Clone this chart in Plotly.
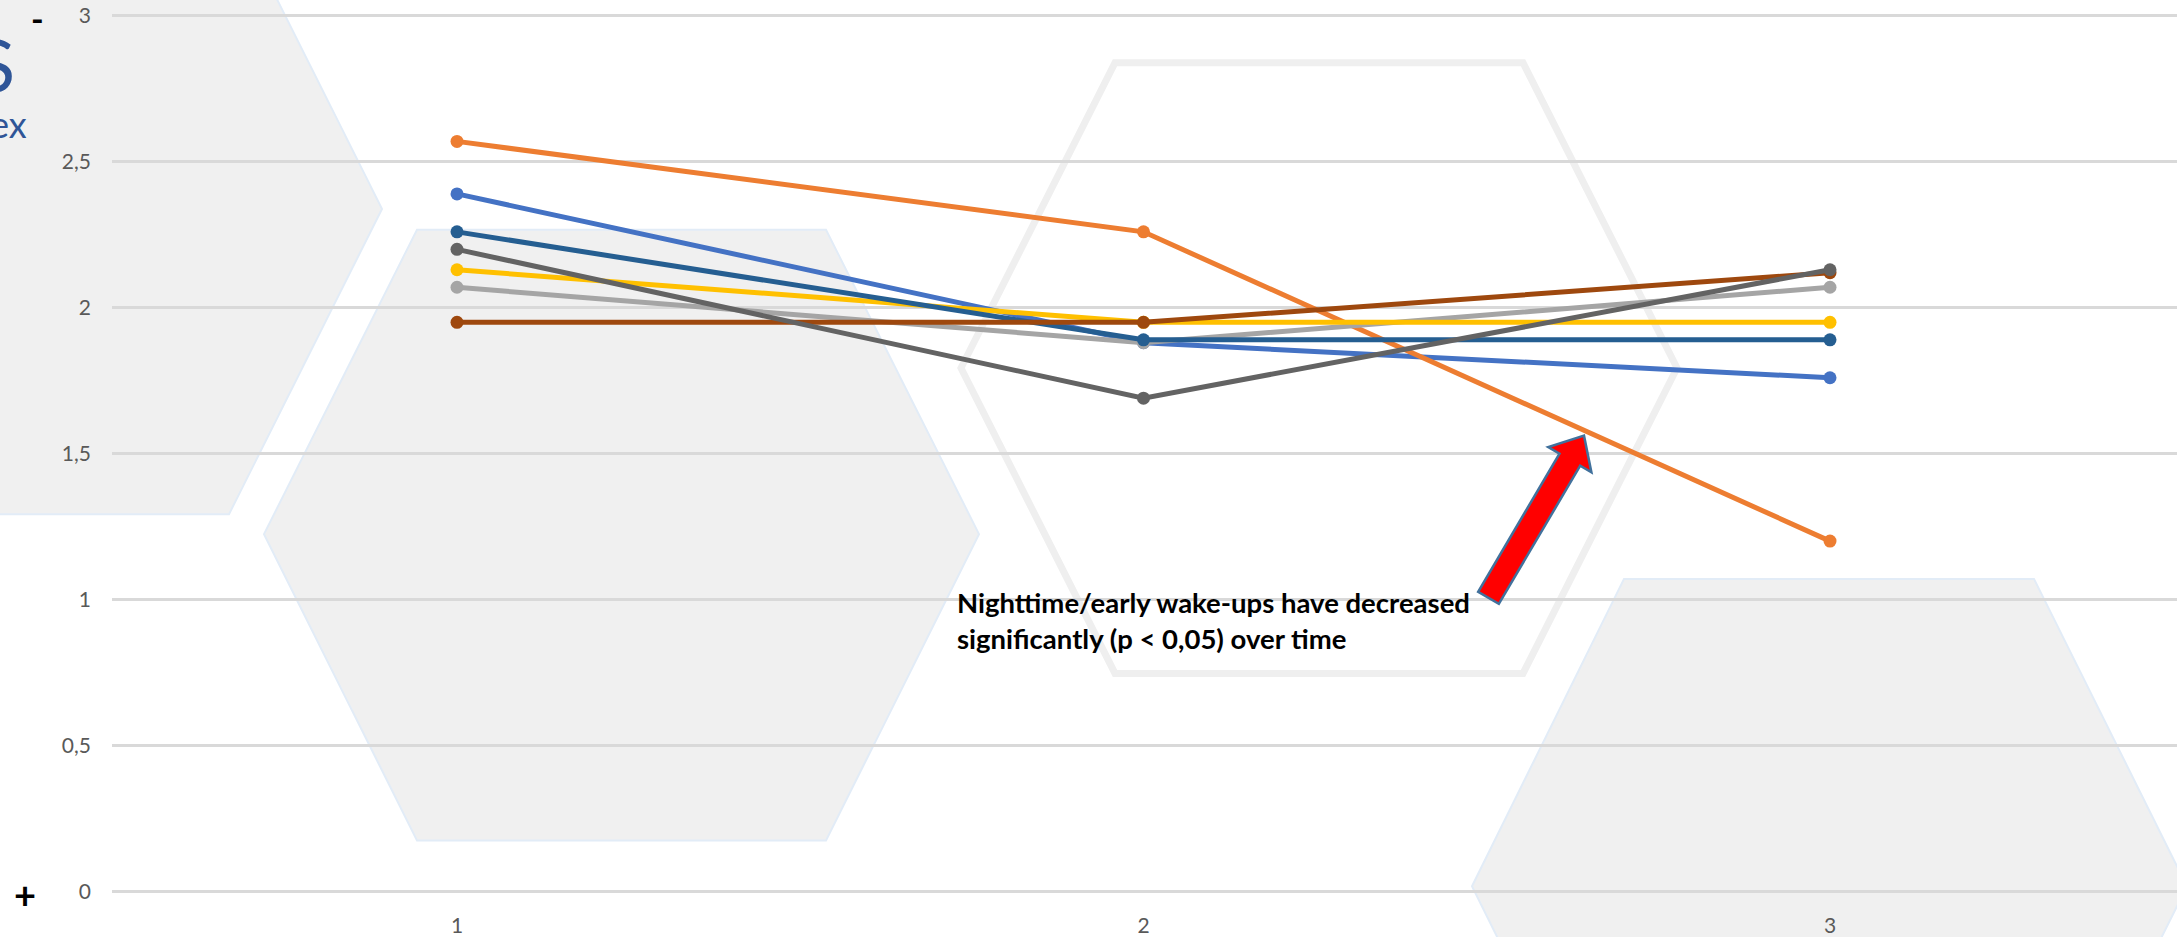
import plotly.graph_objects as go

# ---- data -------------------------------------------------------------
categories = [1, 2, 3]
tick_labels_x = ["1", "2", "3"]

serie_1 = [2.39, 1.88, 1.76]   # blue
serie_2 = [2.57, 2.26, 1.20]   # orange
serie_3 = [2.07, 1.88, 2.07]   # light grey
serie_4 = [2.13, 1.95, 1.95]   # yellow
serie_5 = [2.26, 1.89, 1.89]   # dark blue
serie_6 = [1.95, 1.95, 2.12]   # brown
serie_7 = [2.20, 1.69, 2.13]   # dark grey

y_tick_values = [0, 0.5, 1, 1.5, 2, 2.5, 3]
y_tick_labels = ["0", "0,5", "1", "1,5", "2", "2,5", "3"]

note_text = "Nighttime/early wake-ups have decreased<br>significantly (p < 0,05) over time"

# ---- canvas geometry (pixels) ----------------------------------------
W, H = 2177, 937
PLOT_LEFT = 112
X_ORIGIN, X_STEP = 457, 686.5        # pixel of category 1, pixels per category
Y_ZERO, Y_UNIT = 894, 293.33         # pixel of value 0, pixels per unit

x_range = [1 - (X_ORIGIN - PLOT_LEFT) / X_STEP, 1 + (W - X_ORIGIN) / X_STEP]
y_range = [-0.04, 3.04]
y_dom = [(H - (Y_ZERO - y_range[0] * Y_UNIT)) / H, (H - (Y_ZERO - y_range[1] * Y_UNIT)) / H]


def px(x):
    return x / W


def py(y):
    return 1 - y / H


def path(points):
    return "M " + " L ".join(f"{px(a):.5f},{py(b):.5f}" for a, b in points) + " Z"


# ---- series -------------------------------------------------------------
series = [
    ("Serie 1", serie_1, "#4472C4"),
    ("Serie 2", serie_2, "#ED7D31"),
    ("Serie 3", serie_3, "#A5A5A5"),
    ("Serie 4", serie_4, "#FFC000"),
    ("Serie 5", serie_5, "#255E91"),
    ("Serie 6", serie_6, "#9E480E"),
    ("Serie 7", serie_7, "#636363"),
]

fig = go.Figure()
for name, vals, col in series:
    fig.add_trace(go.Scatter(
        x=categories, y=vals, name=name, mode="lines+markers",
        line=dict(color=col, width=5),
        marker=dict(color=col, size=13),
        showlegend=False, hoverinfo="skip",
    ))

# ---- decorative hexagons -------------------------------------------------
hex_fill = "#F0F0F0"
hex_edge = "#E2ECF7"
filled_hexes = [
    [(-333, 208), (-180, -99), (229, -99), (382, 208), (229, 515), (-180, 515)],
    [(264, 535), (417, 229), (826, 229), (979, 535), (826, 843), (417, 843)],
    [(1472, 889), (1624, 580), (2034, 580), (2187, 889), (2034, 1197), (1624, 1197)],
]
shapes = []
for pts in filled_hexes:
    shapes.append(dict(type="path", path=path(pts), xref="paper", yref="paper",
                       fillcolor=hex_fill, line=dict(color=hex_edge, width=2), layer="below"))
outline_hex = [(961, 368), (1115, 61), (1523, 61), (1677, 368), (1523, 675), (1115, 675)]
shapes.append(dict(type="path", path=path(outline_hex), xref="paper", yref="paper",
                   fillcolor="rgba(0,0,0,0)", line=dict(color="#EFEFEF", width=7), layer="below"))

# ---- block arrow pointing at the orange series ---------------------------
tail = (1488.5, 599.0)
tip = (1584.0, 436.0)
dx, dy = tip[0] - tail[0], tip[1] - tail[1]
ln = (dx * dx + dy * dy) ** 0.5
ux, uy = dx / ln, dy / ln
nx, ny = -uy, ux
w_shaft, w_head, l_head = 12, 25, 28
bx, by = tip[0] - ux * l_head, tip[1] - uy * l_head
arrow = [
    (tail[0] - nx * w_shaft, tail[1] - ny * w_shaft),
    (bx - nx * w_shaft, by - ny * w_shaft),
    (bx - nx * w_head, by - ny * w_head),
    tip,
    (bx + nx * w_head, by + ny * w_head),
    (bx + nx * w_shaft, by + ny * w_shaft),
    (tail[0] + nx * w_shaft, tail[1] + ny * w_shaft),
]
shapes.append(dict(type="path", path=path(arrow), xref="paper", yref="paper",
                   fillcolor="#FF0000", line=dict(color="#41719C", width=2.5), layer="above"))

# ---- text ---------------------------------------------------------------
annotations = [
    dict(text=note_text, x=px(955), y=py(622), xref="paper", yref="paper",
         xanchor="left", yanchor="middle", align="left", showarrow=False,
         font=dict(family="Lato", size=27.5, color="#000000", weight="bold")),
    dict(text="S", x=px(17), y=py(62), xref="paper", yref="paper",
         xanchor="right", yanchor="middle", showarrow=False, height=60,
         font=dict(family="Lato", size=72, color="#2F5597")),
    dict(text="ex", x=px(29), y=py(123), xref="paper", yref="paper",
         xanchor="right", yanchor="middle", showarrow=False, height=34,
         font=dict(family="Lato", size=36, color="#2F5597")),
    dict(text="-", x=px(37), y=py(16), xref="paper", yref="paper",
         xanchor="center", yanchor="middle", showarrow=False, height=28,
         font=dict(family="Lato", size=34, color="#000000", weight="bold")),
    dict(text="+", x=px(25), y=py(897), xref="paper", yref="paper",
         xanchor="center", yanchor="middle", showarrow=False,
         font=dict(family="Lato", size=38, color="#000000", weight="bold")),
]

fig.update_layout(
    width=W, height=H, autosize=False,
    margin=dict(l=0, r=0, t=0, b=0, pad=0),
    paper_bgcolor="#FFFFFF", plot_bgcolor="rgba(0,0,0,0)",
    shapes=shapes, annotations=annotations,
    font=dict(family="Lato", color="#595959"),
    xaxis=dict(domain=[PLOT_LEFT / W, 1], range=x_range, showgrid=False, zeroline=False,
               showline=False, ticks="", tickvals=categories, ticktext=tick_labels_x,
               tickfont=dict(size=21, color="#595959"), ticklabelstandoff=8, fixedrange=True),
    yaxis=dict(domain=y_dom, range=y_range, showgrid=True, gridcolor="#D9D9D9", gridwidth=2.5,
               zeroline=False, showline=False, ticks="", tickvals=y_tick_values,
               ticktext=y_tick_labels, tickfont=dict(size=21, color="#595959"),
               ticklabelstandoff=20, fixedrange=True),
)

fig.write_html("out.html")
